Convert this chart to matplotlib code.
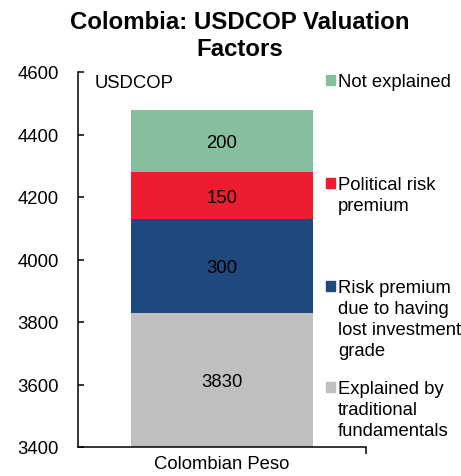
import numpy as np
import matplotlib
matplotlib.use("Agg")
from matplotlib import pyplot as plt

# data
category = ["Colombian Peso"]
components = ["Explained by\ntraditional\nfundamentals",
              "Risk premium\ndue to having\nlost investment\ngrade",
              "Political risk\npremium",
              "Not explained"]
values = [3830, 300, 150, 200]
colors = ["#bfbfbf", "#1f497d", "#ed1c2e", "#86bf9e"]
yticks = [3400, 3600, 3800, 4000, 4200, 4400, 4600]

plt.rcParams["font.family"] = ["Liberation Sans", "DejaVu Sans"]
fs = 13.3

fig = plt.figure(figsize=(4.61, 4.77), dpi=100)
ax = fig.add_axes([78/461, 1 - 448/477, 288/461, 375/477])

ymin, ymax = yticks[0], yticks[-1]
bottom = 0
for val, col in zip(values, colors):
    ax.bar(0, val, bottom=bottom, width=0.632, color=col, zorder=2)
    # label in the middle of the visible part of the segment
    mid = (max(bottom, ymin) + bottom + val) / 2
    ax.text(0, mid, str(val), ha="center", va="center_baseline", fontsize=fs)
    bottom += val

ax.set_xlim(-0.5, 0.5)
ax.set_ylim(ymin, ymax)
ax.set_yticks(yticks)
ax.tick_params(axis="y", direction="in", length=4, width=1.1, labelsize=fs, pad=14)
ax.set_xticks([0])
ax.set_xticklabels(category, fontsize=fs)
ax.tick_params(axis="x", length=0, pad=6)
ax.set_xticks([0.5], minor=True)
ax.tick_params(axis="x", which="minor", direction="out", length=5, width=1.1)

for s in ["top", "right"]:
    ax.spines[s].set_visible(False)
for s in ["left", "bottom"]:
    ax.spines[s].set_linewidth(1.1)

ax.text(95/461, 1 - 81/477, "USDCOP", transform=fig.transFigure,
        ha="left", va="center_baseline", fontsize=fs)

# legend drawn by hand to the right of the bar
leg_y = [388, 287, 184, 81]
for name, col, yy in zip(components, colors, leg_y):
    fy = 1 - yy / 477
    fig.patches.append(plt.Rectangle((326/461, fy - 5/477), 9/461, 10/477,
                                     transform=fig.transFigure, color=col))
    fig.text(338/461, fy + 7/477, name, ha="left", va="top", fontsize=fs,
             linespacing=1.3)

fig.text(240/461, 1 - 36/477, "Colombia: USDCOP Valuation\nFactors", ha="center",
         va="center", fontsize=17.3, fontweight="bold", linespacing=1.22)

fig.savefig("out.png", dpi=100)
